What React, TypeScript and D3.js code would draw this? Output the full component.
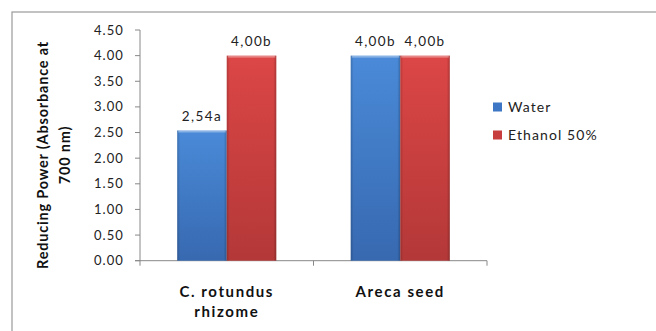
import React from "react";
import * as d3 from "d3";

const categories = ["C. rotundus\nrhizome", "Areca seed"];
const seriesNames = ["Water", "Ethanol 50%"];
const water = [2.54, 4.0];
const ethanol = [4.0, 4.0];
const waterLabels = ["2,54a", "4,00b"];
const ethanolLabels = ["4,00b", "4,00b"];
const yTicks = [0, 0.5, 1, 1.5, 2, 2.5, 3, 3.5, 4, 4.5];

const W = 656, H = 331;
const plot = { left: 140, right: 487, top: 30, bottom: 260.7 };
const font = "Lato, 'Open Sans', sans-serif";

export default function App() {
  const y = d3.scaleLinear().domain([0, 4.5]).range([plot.bottom, plot.top]);
  const x0 = d3.scaleBand<string>().domain(categories).range([plot.left, plot.right]).paddingInner(0).paddingOuter(0);
  const bw = x0.bandwidth();
  const groupW = bw * 0.571;
  const x1 = d3.scaleBand<string>().domain(seriesNames).range([0, groupW]).padding(0);
  const values = [water, ethanol];
  const labels = [waterLabels, ethanolLabels];
  const fills = ["url(#gBlue)", "url(#gRed)"];
  const legendColors = ["#3d76c4", "#c83d3d"];

  return (
    <svg width={W} height={H} style={{ position: "absolute", left: 0, top: 0, background: "#fff" }}>
      <defs>
        <linearGradient id="gBlue" x1="0" y1="0" x2="0" y2="1">
          <stop offset="0" stopColor="#4a8ad8" />
          <stop offset="1" stopColor="#3769b0" />
        </linearGradient>
        <linearGradient id="gRed" x1="0" y1="0" x2="0" y2="1">
          <stop offset="0" stopColor="#dc4646" />
          <stop offset="1" stopColor="#b43838" />
        </linearGradient>
        <linearGradient id="gEdge" x1="0" y1="0" x2="1" y2="0">
          <stop offset="0" stopColor="#000" stopOpacity="0.18" />
          <stop offset="0.06" stopColor="#000" stopOpacity="0" />
          <stop offset="0.94" stopColor="#000" stopOpacity="0" />
          <stop offset="1" stopColor="#000" stopOpacity="0.22" />
        </linearGradient>
      </defs>
      <rect x={12} y={12} width={700} height={400} fill="none" stroke="#9a9a9a" strokeWidth={1.2} />
      {/* y axis */}
      <line x1={plot.left} x2={plot.left} y1={plot.top} y2={plot.bottom} stroke="#888" />
      {yTicks.map((t) => (
        <g key={t}>
          <line x1={plot.left - 5} x2={plot.left} y1={y(t)} y2={y(t)} stroke="#888" />
          <text x={124} y={y(t)} dy="0.35em" textAnchor="end" fontFamily={font} fontSize={13} letterSpacing={1.1} fill="#222">
            {t.toFixed(2)}
          </text>
        </g>
      ))}
      {/* x axis */}
      <line x1={plot.left - 5} x2={plot.right} y1={plot.bottom} y2={plot.bottom} stroke="#888" />
      {[...categories.map((c) => x0(c)!), plot.right].map((xx, i) => (
        <line key={i} x1={xx} x2={xx} y1={plot.bottom} y2={plot.bottom + 5} stroke="#888" />
      ))}
      {/* bars */}
      {categories.map((c, ci) => {
        const gx = x0(c)! + (bw - groupW) / 2;
        return (
          <g key={c}>
            {seriesNames.map((s, si) => {
              const v = values[si][ci];
              const bx = gx + x1(s)!;
              const w = x1.bandwidth();
              return (
                <g key={s}>
                  <rect x={bx} y={y(v)} width={w} height={y(0) - y(v)} fill={fills[si]} />
                  <rect x={bx} y={y(v)} width={w} height={y(0) - y(v)} fill="url(#gEdge)" />
                  <rect x={bx + 1} y={y(v)} width={w - 2} height={2} fill="#fff" opacity={0.35} />
                  <text x={bx + w / 2} y={y(v) - 14} textAnchor="middle" dy="0.35em" fontFamily={font} fontSize={13.5} letterSpacing={1.4} fill="#222">
                    {labels[si][ci]}
                  </text>
                </g>
              );
            })}
            {c.split("\n").map((line, li) => (
              <text key={li} x={x0(c)! + bw / 2} y={292 + li * 20} dy="0.35em" textAnchor="middle" fontFamily={font} fontWeight="bold" fontSize={15} letterSpacing={1.6} fill="#111">
                {line}
              </text>
            ))}
          </g>
        );
      })}
      {/* y title */}
      <g transform={`translate(54,155) rotate(-90)`}>
        <text x={0} y={-11} dy="0.35em" textAnchor="middle" fontFamily={font} fontWeight="bold" fontSize={14.5} letterSpacing={0.8} fill="#111">
          Reducing Power (Absorbance at
        </text>
        <text x={0} y={11} dy="0.35em" textAnchor="middle" fontFamily={font} fontWeight="bold" fontSize={14.5} letterSpacing={0.8} fill="#111">
          700 nm)
        </text>
      </g>
      {/* legend */}
      {seriesNames.map((s, i) => (
        <g key={s} transform={`translate(493,${107 + i * 28})`}>
          <rect x={0} y={-4.5} width={9} height={9} fill={legendColors[i]} />
          <text x={15} y={0} dy="0.35em" fontFamily={font} fontSize={14} letterSpacing={1.1} fill="#222">
            {s}
          </text>
        </g>
      ))}
    </svg>
  );
}
